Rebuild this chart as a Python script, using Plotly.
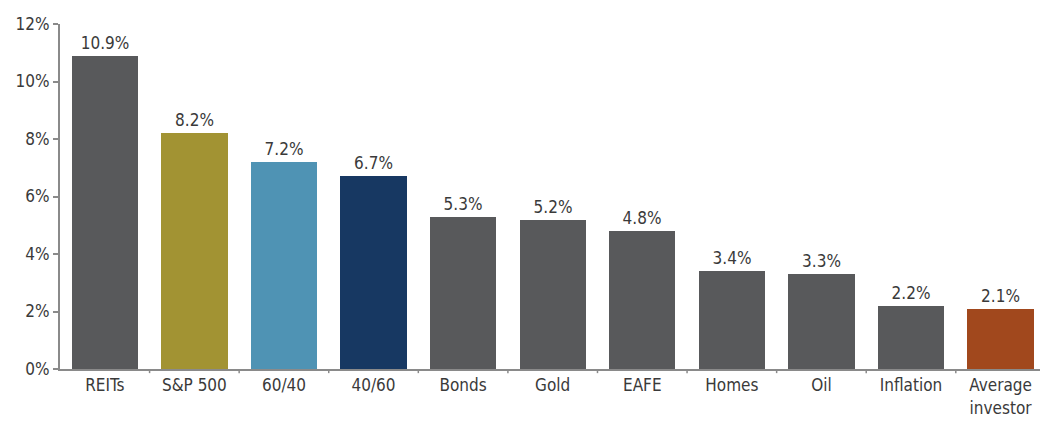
import plotly.graph_objects as go

categories = ["REITs", "S&P 500", "60/40", "40/60", "Bonds", "Gold", "EAFE",
              "Homes", "Oil", "Inflation", "Average<br>investor"]
returns = [10.9, 8.2, 7.2, 6.7, 5.3, 5.2, 4.8, 3.4, 3.3, 2.2, 2.1]
bar_colors = ["#58595b", "#a29333", "#4f93b4", "#173862", "#58595b", "#58595b",
              "#58595b", "#58595b", "#58595b", "#58595b", "#a1481d"]
y_ticks = [0, 2, 4, 6, 8, 10, 12]
y_tick_labels = ["0%", "2%", "4%", "6%", "8%", "10%", "12%"]

FONT = "Liberation Sans Narrow, DejaVu Sans Condensed, Arial Narrow, sans-serif"
TEXT = "#3a3a3a"

fig = go.Figure(go.Bar(
    x=list(range(len(categories))),
    y=returns,
    marker=dict(color=bar_colors, line=dict(width=0)),
    width=0.74,
    text=[f"{v:.1f}%" for v in returns],
    textposition="outside",
    textfont=dict(family=FONT, size=17, color=TEXT),
    cliponaxis=False,
))

fig.update_layout(
    width=1040, height=430,
    margin=dict(l=60, r=0, t=24, b=61),
    paper_bgcolor="white", plot_bgcolor="white",
    showlegend=False,
    font=dict(family=FONT, size=17, color=TEXT),
    bargap=0,
)

fig.update_xaxes(
    range=[-0.5, 10.44],
    tickmode="array",
    tickvals=list(range(len(categories))),
    ticktext=categories,
    ticks="",
    showline=True, linecolor="#8a8a8a", linewidth=2,
    showgrid=False, zeroline=False,
    tickfont=dict(family=FONT, size=17, color=TEXT),
)

# small separator ticks between categories on the baseline
for b in [i + 0.5 for i in range(len(categories) - 1)]:
    fig.add_shape(type="line", xref="x", yref="paper", x0=b, x1=b, y0=0, y1=-0.012,
                  line=dict(color="#8a8a8a", width=1.5))

fig.update_yaxes(
    range=[0, 12],
    tickmode="array",
    tickvals=y_ticks,
    ticktext=y_tick_labels,
    ticks="outside", ticklen=5, tickcolor="#8a8a8a", tickwidth=1.5,
    showline=True, linecolor="#8a8a8a", linewidth=2,
    showgrid=False, zeroline=False,
    tickfont=dict(family=FONT, size=17, color=TEXT),
)

fig.write_html("out.html")
